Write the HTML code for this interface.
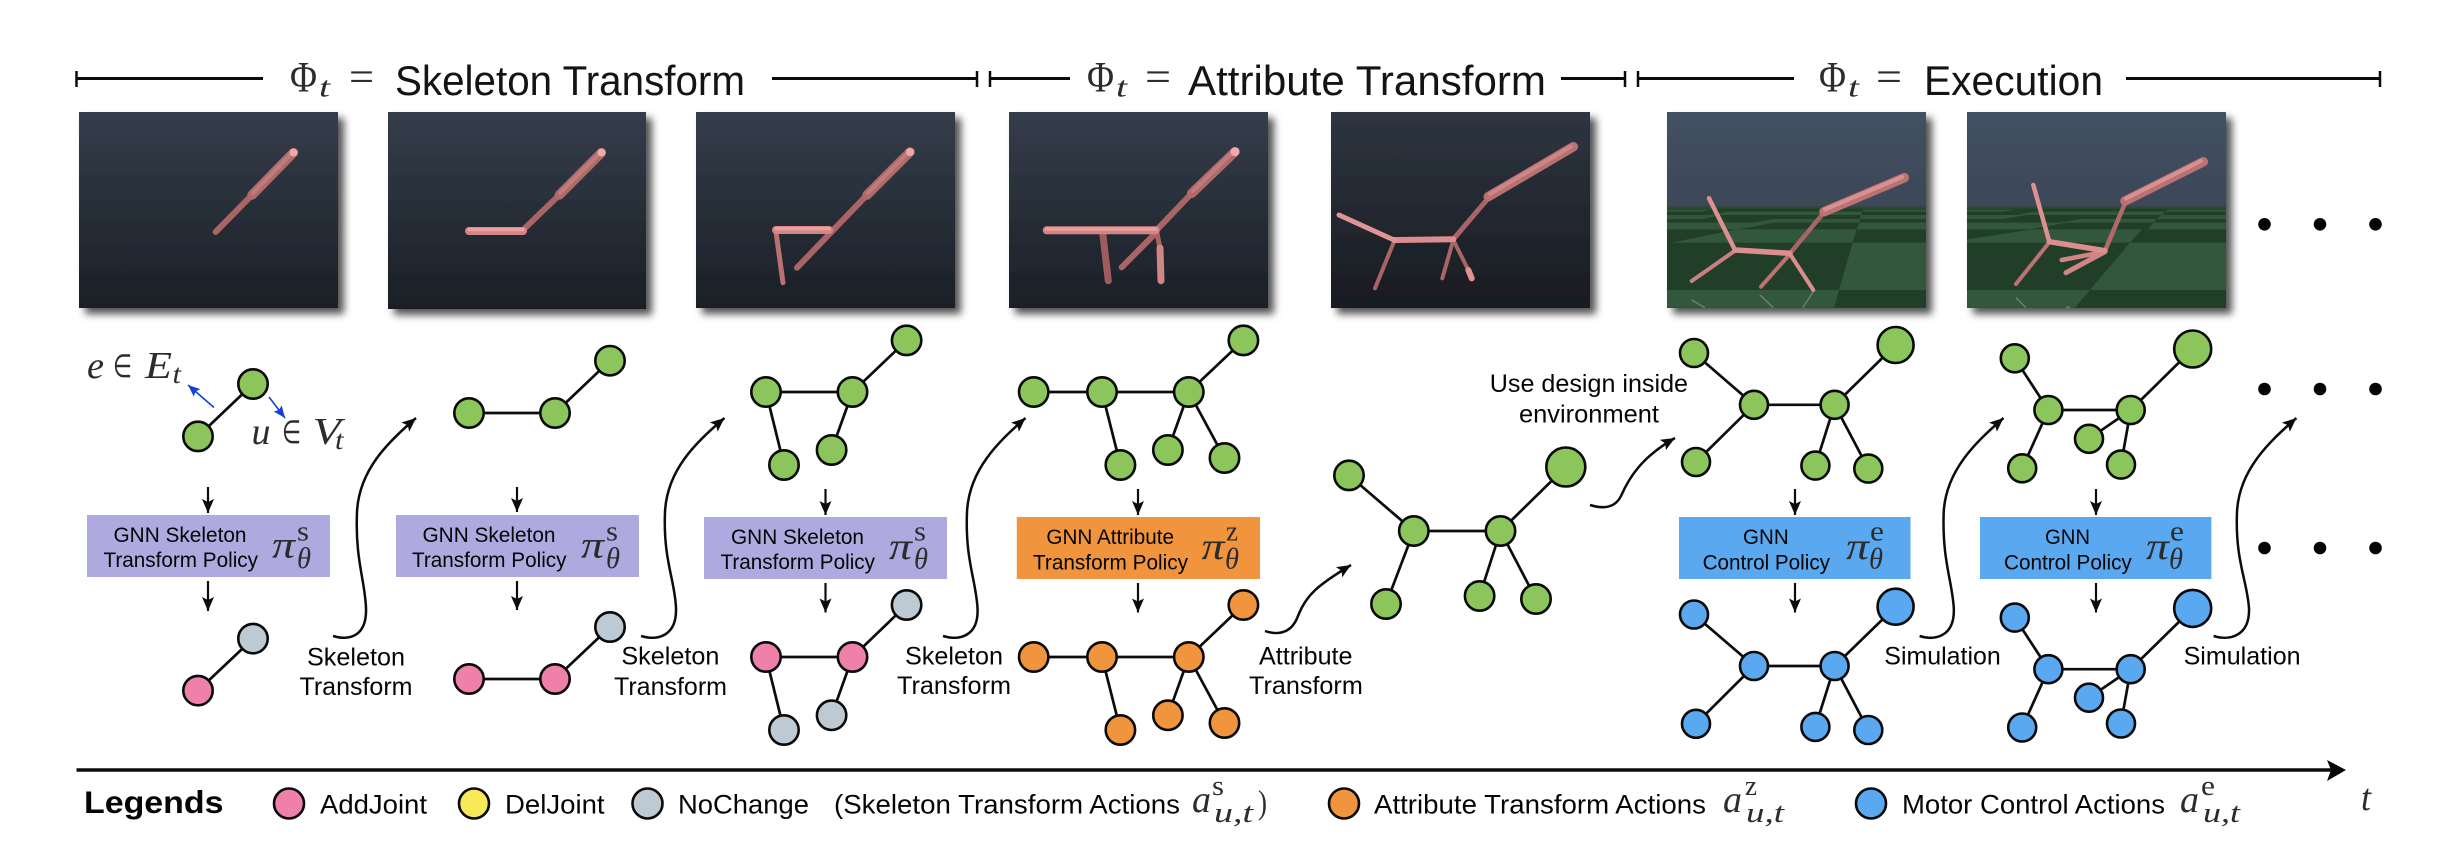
<!DOCTYPE html>
<html lang="en">
<head>
<meta charset="utf-8">
<title>Transform2Act overview diagram</title>
<style>
html,body{margin:0;padding:0;background:#fff;width:2438px;height:852px;overflow:hidden}
svg{display:block}
text{font-family:"Liberation Sans",sans-serif;fill:#050505}
.hd{font-size:41.5px;fill:#141414}
.lab{font-size:25px}
.box{font-size:21.5px}
.leg{font-size:26.5px}
.m{font-family:"Liberation Serif",serif;font-style:italic;fill:#2c2c2c}
.r{font-family:"Liberation Serif",serif;fill:#2c2c2c}
.e line{stroke:#0c0c0c;stroke-width:2.7}
.n circle{stroke:#0a0a0a;stroke-width:2.6}
.green circle{fill:#8cc55b}
.pink{fill:#ee80aa}
.gray{fill:#bdcad3}
.orange circle,.orangef{fill:#f0953e}
.blue circle,.bluef{fill:#5aa8ef}
.bracket line{stroke:#0a0a0a}
.dn{stroke:#0c0c0c;stroke-width:2.2;fill:none}
.cv{stroke:#0c0c0c;stroke-width:2.5;fill:none}
.lb{stroke-linecap:round;fill:none}
</style>
</head>
<body>
<svg xmlns="http://www.w3.org/2000/svg" width="2438" height="852" viewBox="0 0 2438 852">
<defs>
<linearGradient id="gDark" x1="0" y1="0" x2="0" y2="1"><stop offset="0" stop-color="#343d4a"/><stop offset="1" stop-color="#1b1f26"/></linearGradient>
<linearGradient id="gDark2" x1="0" y1="0" x2="0" y2="1"><stop offset="0" stop-color="#2e3541"/><stop offset="1" stop-color="#181b20"/></linearGradient>
<linearGradient id="gSky" x1="0" y1="0" x2="0" y2="1"><stop offset="0" stop-color="#435163"/><stop offset="1" stop-color="#343d4b"/></linearGradient>
<filter id="sh" x="-10%" y="-10%" width="125%" height="125%"><feDropShadow dx="6" dy="6" stdDeviation="4" flood-color="#000" flood-opacity=".68"/></filter>
<marker id="hd" markerUnits="userSpaceOnUse" markerWidth="16" markerHeight="14" refX="14" refY="6" orient="auto"><path d="M0 0L14 6L0 12L3 6Z" fill="#0c0c0c"/></marker>
<marker id="hb" markerUnits="userSpaceOnUse" markerWidth="14" markerHeight="12" refX="12" refY="5" orient="auto"><path d="M0 0L12 5L0 10L2 5Z" fill="#1440e0"/></marker>
</defs>

<!-- header brackets -->
<g class="bracket">
<line x1="76.5" y1="71" x2="76.5" y2="87" stroke-width="2.5"/><line x1="76" y1="78.5" x2="263" y2="78.5" stroke-width="3"/>
<line x1="772" y1="78.5" x2="977" y2="78.5" stroke-width="3"/><line x1="977" y1="71" x2="977" y2="87" stroke-width="2.5"/>
</g>
<g>
<text class="r" x="290" y="91.5" font-size="43" textLength="27" lengthAdjust="spacingAndGlyphs">Φ</text>
<text class="m" x="319" y="96.5" font-size="29" textLength="11" lengthAdjust="spacingAndGlyphs">t</text>
<text class="r" x="349" y="91" font-size="42" textLength="25" lengthAdjust="spacingAndGlyphs">=</text>
<text class="hd" x="395" y="95" textLength="350" lengthAdjust="spacingAndGlyphs">Skeleton Transform</text>
</g>
<g class="bracket">
<line x1="990" y1="71" x2="990" y2="87" stroke-width="2.5"/><line x1="990" y1="78.5" x2="1070" y2="78.5" stroke-width="3"/>
<line x1="1561" y1="78.5" x2="1625" y2="78.5" stroke-width="3"/><line x1="1625" y1="71" x2="1625" y2="87" stroke-width="2.5"/>
</g>
<g>
<text class="r" x="1087" y="91.5" font-size="43" textLength="27" lengthAdjust="spacingAndGlyphs">Φ</text>
<text class="m" x="1116" y="96.5" font-size="29" textLength="11" lengthAdjust="spacingAndGlyphs">t</text>
<text class="r" x="1145" y="91" font-size="42" textLength="26" lengthAdjust="spacingAndGlyphs">=</text>
<text class="hd" x="1188" y="95" textLength="358" lengthAdjust="spacingAndGlyphs">Attribute Transform</text>
</g>
<g class="bracket">
<line x1="1638" y1="71" x2="1638" y2="87" stroke-width="2.5"/><line x1="1638" y1="78.5" x2="1794" y2="78.5" stroke-width="3"/>
<line x1="2126" y1="78.5" x2="2380" y2="78.5" stroke-width="3"/><line x1="2380" y1="71" x2="2380" y2="87" stroke-width="2.5"/>
</g>
<g>
<text class="r" x="1819" y="91.5" font-size="43" textLength="27" lengthAdjust="spacingAndGlyphs">Φ</text>
<text class="m" x="1848" y="96.5" font-size="29" textLength="11" lengthAdjust="spacingAndGlyphs">t</text>
<text class="r" x="1876" y="91" font-size="42" textLength="26" lengthAdjust="spacingAndGlyphs">=</text>
<text class="hd" x="1924" y="95" textLength="179" lengthAdjust="spacingAndGlyphs">Execution</text>
</g>

<!-- render panels -->
<g>
<rect x="79" y="112" width="259" height="196" fill="url(#gDark)" filter="url(#sh)"/>
<g class="lb">
<line x1="252" y1="195" x2="215.6" y2="232" stroke="#a96565" stroke-width="6"/>
<line x1="293.4" y1="152.7" x2="252" y2="195" stroke="#b06a6a" stroke-width="9.5"/>
<line x1="292" y1="153" x2="253" y2="193" stroke="#c27b7b" stroke-width="4"/>
<circle cx="293.5" cy="152.5" r="4" fill="#efa9a9"/>
</g></g>
<g>
<rect x="388" y="112" width="258" height="197" fill="url(#gDark)" filter="url(#sh)"/>
<g class="lb">
<line x1="559.3" y1="195" x2="523" y2="230" stroke="#a96565" stroke-width="6"/>
<line x1="601.4" y1="152.7" x2="559.3" y2="195" stroke="#b06a6a" stroke-width="9.5"/>
<line x1="600" y1="153" x2="560" y2="193" stroke="#c27b7b" stroke-width="4"/>
<circle cx="601.5" cy="152.5" r="4" fill="#efa9a9"/>
<line x1="523" y1="231" x2="469" y2="231" stroke="#d28585" stroke-width="8"/>
<line x1="523" y1="229.5" x2="469" y2="229.5" stroke="#ec9f9f" stroke-width="3.5"/>
</g></g>
<g>
<rect x="696" y="112" width="259" height="196" fill="url(#gDark)" filter="url(#sh)"/>
<g class="lb">
<line x1="867" y1="195" x2="797" y2="267.7" stroke="#a96565" stroke-width="6"/>
<line x1="910" y1="152" x2="867" y2="195" stroke="#b06a6a" stroke-width="9.5"/>
<line x1="908.500" y1="152.500" x2="868" y2="193" stroke="#c27b7b" stroke-width="4"/>
<circle cx="910" cy="152" r="4" fill="#efa9a9"/>
<line x1="776" y1="232" x2="783" y2="282.7" stroke="#b87272" stroke-width="5"/>
<line x1="829" y1="230" x2="776" y2="230" stroke="#d28585" stroke-width="8"/>
<line x1="829" y1="228.500" x2="776" y2="228.500" stroke="#ec9f9f" stroke-width="3.5"/>
</g></g>
<g>
<rect x="1009" y="112" width="259" height="196" fill="url(#gDark)" filter="url(#sh)"/>
<g class="lb">
<line x1="1191.7" y1="193.3" x2="1155.7" y2="231" stroke="#a96565" stroke-width="6"/>
<line x1="1235" y1="151.7" x2="1191.7" y2="193.3" stroke="#b06a6a" stroke-width="9.5"/>
<line x1="1233" y1="152" x2="1193" y2="191" stroke="#c27b7b" stroke-width="4"/>
<circle cx="1235" cy="151.7" r="4.5" fill="#efa9a9"/>
<line x1="1155.7" y1="233" x2="1121.7" y2="267.3" stroke="#a96565" stroke-width="6"/>
<line x1="1102.7" y1="233" x2="1108.3" y2="280.7" stroke="#a05c5c" stroke-width="7"/>
<line x1="1156.7" y1="231.7" x2="1160" y2="248" stroke="#a96363" stroke-width="5"/>
<line x1="1160" y1="248" x2="1161" y2="280.7" stroke="#d28585" stroke-width="7"/>
<line x1="1155.7" y1="230.3" x2="1046.7" y2="230.3" stroke="#d28585" stroke-width="8"/>
<line x1="1155.7" y1="229" x2="1046.7" y2="229" stroke="#ec9f9f" stroke-width="3.5"/>
</g></g>
<g>
<rect x="1331" y="112" width="259" height="196" fill="url(#gDark2)" filter="url(#sh)"/>
<g class="lb">
<line x1="1486.7" y1="200" x2="1453.3" y2="239.3" stroke="#a96565" stroke-width="5"/>
<line x1="1573.3" y1="146.7" x2="1488.3" y2="196.7" stroke="#b87070" stroke-width="9.5"/>
<line x1="1571" y1="146.500" x2="1490" y2="194" stroke="#cd8585" stroke-width="4"/>
<line x1="1394" y1="241.7" x2="1375" y2="288.3" stroke="#a96565" stroke-width="4"/>
<line x1="1453.3" y1="240" x2="1442.3" y2="278.3" stroke="#a96565" stroke-width="4"/>
<line x1="1453.3" y1="240" x2="1468.3" y2="270" stroke="#a96565" stroke-width="4"/>
<line x1="1468.3" y1="270" x2="1471.7" y2="278.3" stroke="#e09292" stroke-width="6"/>
<line x1="1453.3" y1="239.3" x2="1394" y2="240" stroke="#dc8e8e" stroke-width="6"/>
<line x1="1394" y1="240" x2="1339" y2="215" stroke="#e09494" stroke-width="5"/>
</g></g>
<g>
<rect x="1667" y="112" width="259" height="196" fill="url(#gSky)" filter="url(#sh)"/>
<g transform="translate(1660,105) scale(.33333)">
<rect x="21" y="305" width="777" height="303" fill="#213f28"/>
<g fill="#33573c">
<polygon points="21,555 537,555 522,608 21,608"/>
<polygon points="578,413 798,413 798,555 537,555"/>
<polygon points="35,413 230,373 590,373 578,413"/>
<polygon points="21,353 345,353 235,373 21,373"/>
<polygon points="598,353 798,353 798,373 590,373"/>
<polygon points="340,342 600,342 598,353 280,353"/>
<polygon points="21,330 180,330 130,342 21,342"/>
<polygon points="602,330 798,330 798,342 600,342"/>
<polygon points="200,320 606,320 604,330 150,330"/>
<polygon points="21,314 160,314 120,320 21,320"/>
<polygon points="610,314 798,314 798,320 608,320"/>
<rect x="21" y="305" width="777" height="6" fill="#2a4a32"/>
</g>
<g stroke="#c9d3b8" stroke-opacity=".32" stroke-width="5" fill="none">
<line x1="95" y1="585" x2="135" y2="608"/><line x1="300" y1="570" x2="340" y2="608"/><line x1="460" y1="560" x2="428" y2="608"/>
</g></g>
<g class="lb">
<line x1="1823.3" y1="213.3" x2="1790" y2="253.3" stroke="#a96565" stroke-width="4.5"/>
<line x1="1904.3" y1="177.7" x2="1824" y2="211.7" stroke="#bb7272" stroke-width="9.5"/>
<line x1="1902" y1="177" x2="1825" y2="209.500" stroke="#d99090" stroke-width="4"/>
<line x1="1735" y1="250.7" x2="1691.7" y2="281" stroke="#c88080" stroke-width="4"/>
<line x1="1790" y1="254" x2="1761" y2="286.7" stroke="#ba7272" stroke-width="4"/>
<line x1="1790" y1="254" x2="1813.3" y2="290" stroke="#db8e8e" stroke-width="4"/>
<line x1="1735" y1="250" x2="1709" y2="198.3" stroke="#dd9090" stroke-width="4.5"/>
<line x1="1790" y1="253.3" x2="1735" y2="250" stroke="#dd8e8e" stroke-width="5.5"/>
</g></g>
<g>
<rect x="1967" y="112" width="259" height="196" fill="url(#gSky)" filter="url(#sh)"/>
<g transform="translate(1960,105) scale(.33333)">
<rect x="21" y="305" width="777" height="303" fill="#213f28"/>
<g fill="#33573c">
<polygon points="21,555 390,555 345,608 21,608"/>
<polygon points="510,413 798,413 798,555 390,555"/>
<polygon points="21,403 215,373 547,373 510,413 21,413"/>
<polygon points="21,353 320,353 210,373 21,373"/>
<polygon points="580,353 798,353 798,373 565,373"/>
<polygon points="360,342 590,342 578,353 300,353"/>
<polygon points="21,330 200,330 130,342 21,342"/>
<polygon points="605,330 798,330 798,342 590,342"/>
<polygon points="220,320 615,320 605,330 170,330"/>
<polygon points="21,314 170,314 130,320 21,320"/>
<polygon points="625,314 798,314 798,320 615,320"/>
<rect x="21" y="305" width="777" height="6" fill="#2a4a32"/>
</g>
<polygon points="21,403 215,373 21,373" fill="#213f28"/>
<g stroke="#c9d3b8" stroke-opacity=".32" stroke-width="5" fill="none">
<line x1="168" y1="578" x2="198" y2="608"/><line x1="318" y1="605" x2="330" y2="608"/>
</g></g>
<g class="lb">
<line x1="2125" y1="203.3" x2="2105" y2="250.7" stroke="#b06a6a" stroke-width="4.5"/>
<line x1="2203.3" y1="161.7" x2="2125" y2="201" stroke="#bb7272" stroke-width="9.500"/>
<line x1="2201" y1="161" x2="2126" y2="198.500" stroke="#d99090" stroke-width="4"/>
<line x1="2049.3" y1="242.3" x2="2016" y2="284" stroke="#ba7272" stroke-width="4"/>
<line x1="2105" y1="251.7" x2="2061.7" y2="260" stroke="#d28585" stroke-width="4.5"/>
<line x1="2105" y1="251.7" x2="2066" y2="272.7" stroke="#d28585" stroke-width="5"/>
<line x1="2049.3" y1="241.7" x2="2033.3" y2="185" stroke="#dd9090" stroke-width="4.5"/>
<line x1="2105" y1="250.7" x2="2049.3" y2="241.7" stroke="#dd8e8e" stroke-width="5.5"/>
</g></g>

<g fill="#050505">
<circle cx="2264.5" cy="224.3" r="6.3"/><circle cx="2320" cy="224.3" r="6.3"/><circle cx="2375.5" cy="224.3" r="6.3"/>
</g>
<g fill="#050505">
<circle cx="2264.5" cy="389" r="6.3"/><circle cx="2320" cy="389" r="6.3"/><circle cx="2375.5" cy="389" r="6.3"/>
</g>
<g fill="#050505">
<circle cx="2264.5" cy="548" r="6.3"/><circle cx="2320" cy="548" r="6.3"/><circle cx="2375.5" cy="548" r="6.3"/>
</g>

<!-- annotation e, u -->
<g>
<text class="m" x="87" y="378" font-size="38" textLength="17" lengthAdjust="spacingAndGlyphs">e</text>
<text class="r" x="113" y="377" font-size="32" textLength="19" lengthAdjust="spacingAndGlyphs">∈</text>
<text class="m" x="145" y="378" font-size="38" textLength="27" lengthAdjust="spacingAndGlyphs">E</text>
<text class="m" x="172.5" y="383" font-size="27" textLength="8.5" lengthAdjust="spacingAndGlyphs">t</text>
</g>
<g>
<text class="m" x="251.5" y="444" font-size="38" textLength="19" lengthAdjust="spacingAndGlyphs">u</text>
<text class="r" x="282" y="443" font-size="32" textLength="19" lengthAdjust="spacingAndGlyphs">∈</text>
<text class="m" x="312.8" y="444" font-size="38" textLength="28" lengthAdjust="spacingAndGlyphs">V</text>
<text class="m" x="335" y="449" font-size="27" textLength="8.5" lengthAdjust="spacingAndGlyphs">t</text>
</g>
<line x1="214" y1="407.5" x2="188" y2="385" stroke="#1440e0" stroke-width="1.6" marker-end="url(#hb)"/>
<line x1="269" y1="397" x2="285" y2="418" stroke="#1440e0" stroke-width="1.6" marker-end="url(#hb)"/>

<!-- Graph 1 -->
<g>
<g class="e"><line x1="198" y1="436.4" x2="253" y2="384"/></g>
<g class="n green"><circle cx="198" cy="436.4" r="14.7"/><circle cx="253" cy="384" r="14.7"/></g>
</g>
<g>
<g class="e"><line x1="198" y1="690.6" x2="253" y2="638.6"/></g>
<g class="n"><circle class="pink" cx="198" cy="690.6" r="14.7"/><circle class="gray" cx="253" cy="638.6" r="14.7"/></g>
</g>
<!-- Graph 2 -->
<g>
<g class="e"><line x1="469" y1="413" x2="555" y2="413"/><line x1="555" y1="413" x2="610" y2="360.7"/></g>
<g class="n green"><circle cx="469" cy="413" r="14.7"/><circle cx="555" cy="413" r="14.7"/><circle cx="610" cy="360.7" r="14.7"/></g>
</g>
<g>
<g class="e"><line x1="469" y1="679" x2="555" y2="679"/><line x1="555" y1="679" x2="610" y2="627"/></g>
<g class="n"><circle class="pink" cx="469" cy="679" r="14.7"/><circle class="pink" cx="555" cy="679" r="14.7"/><circle class="gray" cx="610" cy="627" r="14.7"/></g>
</g>
<!-- Graph 3 -->
<g>
<g class="e"><line x1="766" y1="392" x2="852.5" y2="392"/><line x1="852.5" y1="392" x2="906.6" y2="340.4"/><line x1="852.5" y1="392" x2="831.6" y2="450"/><line x1="766" y1="392" x2="784" y2="465"/></g>
<g class="n green"><circle cx="766" cy="392" r="14.7"/><circle cx="852.5" cy="392" r="14.7"/><circle cx="906.6" cy="340.4" r="14.7"/><circle cx="831.6" cy="450" r="14.7"/><circle cx="784" cy="465" r="14.7"/></g>
</g>
<g>
<g class="e"><line x1="766" y1="657" x2="852.5" y2="657"/><line x1="852.5" y1="657" x2="906.6" y2="605"/><line x1="852.5" y1="657" x2="831.6" y2="715.3"/><line x1="766" y1="657" x2="784" y2="730"/></g>
<g class="n"><circle class="pink" cx="766" cy="657" r="14.7"/><circle class="pink" cx="852.5" cy="657" r="14.7"/><circle class="gray" cx="906.6" cy="605" r="14.7"/><circle class="gray" cx="831.6" cy="715.3" r="14.7"/><circle class="gray" cx="784" cy="730" r="14.7"/></g>
</g>
<!-- Graph 4 -->
<g>
<g class="e"><line x1="1033.7" y1="392" x2="1188.8" y2="392"/><line x1="1188.8" y1="392" x2="1243.4" y2="340.4"/><line x1="1102" y1="392" x2="1120.4" y2="465"/><line x1="1188.8" y1="392" x2="1167.9" y2="450"/><line x1="1188.8" y1="392" x2="1224.5" y2="458"/></g>
<g class="n green"><circle cx="1033.7" cy="392" r="14.7"/><circle cx="1102" cy="392" r="14.7"/><circle cx="1188.8" cy="392" r="14.7"/><circle cx="1243.4" cy="340.4" r="14.7"/><circle cx="1120.4" cy="465" r="14.7"/><circle cx="1167.9" cy="450" r="14.7"/><circle cx="1224.5" cy="458" r="14.7"/></g>
</g>
<g>
<g class="e"><line x1="1033.7" y1="657" x2="1188.8" y2="657"/><line x1="1188.8" y1="657" x2="1243.4" y2="605"/><line x1="1102" y1="657" x2="1120.4" y2="730"/><line x1="1188.8" y1="657" x2="1167.9" y2="715.3"/><line x1="1188.8" y1="657" x2="1224.5" y2="723"/></g>
<g class="n orange"><circle cx="1033.7" cy="657" r="14.7"/><circle cx="1102" cy="657" r="14.7"/><circle cx="1188.8" cy="657" r="14.7"/><circle cx="1243.4" cy="605" r="14.7"/><circle cx="1120.4" cy="730" r="14.7"/><circle cx="1167.9" cy="715.3" r="14.7"/><circle cx="1224.5" cy="723" r="14.7"/></g>
</g>
<!-- Graph 5 -->
<g>
<g class="e"><line x1="1349" y1="475.4" x2="1413.8" y2="531"/><line x1="1413.8" y1="531" x2="1500.5" y2="531"/><line x1="1500.5" y1="531" x2="1565.8" y2="467"/><line x1="1413.8" y1="531" x2="1386" y2="604"/><line x1="1500.5" y1="531" x2="1479.6" y2="596"/><line x1="1500.5" y1="531" x2="1536" y2="599"/></g>
<g class="n green"><circle cx="1349" cy="475.4" r="14.7"/><circle cx="1565.8" cy="467" r="19.5"/><circle cx="1413.8" cy="531" r="14.7"/><circle cx="1500.5" cy="531" r="14.7"/><circle cx="1386" cy="604" r="14.7"/><circle cx="1479.6" cy="596" r="14.7"/><circle cx="1536" cy="599" r="14.7"/></g>
</g>
<!-- Graph 6 -->
<g>
<g class="e"><line x1="1694" y1="353" x2="1754" y2="404.8"/><line x1="1754" y1="404.8" x2="1834.6" y2="404.8"/><line x1="1834.6" y1="404.8" x2="1895.6" y2="345"/><line x1="1754" y1="404.8" x2="1696" y2="462"/><line x1="1834.6" y1="404.8" x2="1815.4" y2="465.6"/><line x1="1834.6" y1="404.8" x2="1868.3" y2="468.6"/></g>
<g class="n green"><circle cx="1694" cy="353" r="14"/><circle cx="1895.6" cy="345" r="18"/><circle cx="1754" cy="404.8" r="14"/><circle cx="1834.6" cy="404.8" r="14"/><circle cx="1696" cy="462" r="14"/><circle cx="1815.4" cy="465.6" r="14"/><circle cx="1868.3" cy="468.6" r="14"/></g>
</g>
<g>
<g class="e"><line x1="1694" y1="614.5" x2="1754" y2="666"/><line x1="1754" y1="666" x2="1834.6" y2="666"/><line x1="1834.6" y1="666" x2="1895.6" y2="606.7"/><line x1="1754" y1="666" x2="1696" y2="723.8"/><line x1="1834.6" y1="666" x2="1815.4" y2="726.9"/><line x1="1834.6" y1="666" x2="1868.3" y2="730"/></g>
<g class="n blue"><circle cx="1694" cy="614.5" r="14"/><circle cx="1895.6" cy="606.7" r="18"/><circle cx="1754" cy="666" r="14"/><circle cx="1834.6" cy="666" r="14"/><circle cx="1696" cy="723.8" r="14"/><circle cx="1815.4" cy="726.9" r="14"/><circle cx="1868.3" cy="730" r="14"/></g>
</g>
<!-- Graph 7 -->
<g>
<g class="e"><line x1="2014.8" y1="358.3" x2="2048.4" y2="410"/><line x1="2048.4" y1="410" x2="2130.7" y2="410"/><line x1="2130.7" y1="410" x2="2192.7" y2="349"/><line x1="2048.4" y1="410" x2="2022.2" y2="468.3"/><line x1="2130.7" y1="410" x2="2089" y2="438.8"/><line x1="2130.7" y1="410" x2="2121" y2="464.6"/></g>
<g class="n green"><circle cx="2014.8" cy="358.3" r="14"/><circle cx="2192.7" cy="349" r="18.5"/><circle cx="2048.4" cy="410" r="14"/><circle cx="2130.7" cy="410" r="14"/><circle cx="2022.2" cy="468.3" r="14"/><circle cx="2089" cy="438.8" r="14"/><circle cx="2121" cy="464.6" r="14"/></g>
</g>
<g>
<g class="e"><line x1="2014.8" y1="617.6" x2="2048.4" y2="669.2"/><line x1="2048.4" y1="669.2" x2="2130.7" y2="669.2"/><line x1="2130.7" y1="669.2" x2="2192.7" y2="608.4"/><line x1="2048.4" y1="669.2" x2="2022.2" y2="727.5"/><line x1="2130.7" y1="669.2" x2="2089" y2="697.7"/><line x1="2130.7" y1="669.2" x2="2121" y2="723.5"/></g>
<g class="n blue"><circle cx="2014.8" cy="617.6" r="14"/><circle cx="2192.7" cy="608.4" r="18.5"/><circle cx="2048.4" cy="669.2" r="14"/><circle cx="2130.7" cy="669.2" r="14"/><circle cx="2022.2" cy="727.5" r="14"/><circle cx="2089" cy="697.7" r="14"/><circle cx="2121" cy="723.5" r="14"/></g>
</g>

<!-- down arrows -->
<g>
<line class="dn" x1="208" y1="487" x2="208" y2="513" marker-end="url(#hd)"/><line class="dn" x1="208" y1="581" x2="208" y2="611" marker-end="url(#hd)"/>
<line class="dn" x1="517" y1="487" x2="517" y2="512" marker-end="url(#hd)"/><line class="dn" x1="517" y1="581" x2="517" y2="610" marker-end="url(#hd)"/>
<line class="dn" x1="825.5" y1="489" x2="825.5" y2="515" marker-end="url(#hd)"/><line class="dn" x1="825.5" y1="583" x2="825.5" y2="612.5" marker-end="url(#hd)"/>
<line class="dn" x1="1138" y1="489" x2="1138" y2="515" marker-end="url(#hd)"/><line class="dn" x1="1138" y1="583" x2="1138" y2="612.5" marker-end="url(#hd)"/>
<line class="dn" x1="1795" y1="489" x2="1795" y2="515" marker-end="url(#hd)"/><line class="dn" x1="1795" y1="583" x2="1795" y2="612.5" marker-end="url(#hd)"/>
<line class="dn" x1="2096" y1="489" x2="2096" y2="515" marker-end="url(#hd)"/><line class="dn" x1="2096" y1="583" x2="2096" y2="612.5" marker-end="url(#hd)"/>
</g>

<!-- policy boxes -->
<g>
<rect x="87" y="515" width="243" height="62" fill="#aeaae0"/>
<text class="box" x="113.500" y="542" textLength="133" lengthAdjust="spacingAndGlyphs">GNN Skeleton</text>
<text class="box" x="103.5" y="567" textLength="154.500" lengthAdjust="spacingAndGlyphs">Transform Policy</text>
<text class="m" x="272" y="557.5" font-size="38" textLength="23" lengthAdjust="spacingAndGlyphs">π</text>
<text class="r" x="297" y="540.6" font-size="28" textLength="12" lengthAdjust="spacingAndGlyphs">s</text>
<text class="m" x="297" y="568" font-size="30" textLength="14" lengthAdjust="spacingAndGlyphs">θ</text>
</g>
<g>
<rect x="396" y="515" width="243" height="62" fill="#aeaae0"/>
<text class="box" x="422.500" y="542" textLength="133" lengthAdjust="spacingAndGlyphs">GNN Skeleton</text>
<text class="box" x="412" y="567" textLength="154.500" lengthAdjust="spacingAndGlyphs">Transform Policy</text>
<text class="m" x="581" y="557.5" font-size="38" textLength="23" lengthAdjust="spacingAndGlyphs">π</text>
<text class="r" x="606" y="540.6" font-size="28" textLength="12" lengthAdjust="spacingAndGlyphs">s</text>
<text class="m" x="606" y="568" font-size="30" textLength="14" lengthAdjust="spacingAndGlyphs">θ</text>
</g>
<g>
<rect x="704" y="517" width="243" height="62" fill="#aeaae0"/>
<text class="box" x="731" y="544" textLength="133" lengthAdjust="spacingAndGlyphs">GNN Skeleton</text>
<text class="box" x="720.500" y="569" textLength="154.500" lengthAdjust="spacingAndGlyphs">Transform Policy</text>
<text class="m" x="889" y="559" font-size="38" textLength="23" lengthAdjust="spacingAndGlyphs">π</text>
<text class="r" x="914" y="540.6" font-size="28" textLength="12" lengthAdjust="spacingAndGlyphs">s</text>
<text class="m" x="914" y="568.500" font-size="30" textLength="14" lengthAdjust="spacingAndGlyphs">θ</text>
</g>
<g>
<rect x="1016.8" y="517" width="243.200" height="62" fill="#f0953e"/>
<text class="box" x="1046.4" y="544" textLength="127.600" lengthAdjust="spacingAndGlyphs">GNN Attribute</text>
<text class="box" x="1033" y="569.4" textLength="155" lengthAdjust="spacingAndGlyphs">Transform Policy</text>
<text class="m" x="1201.5" y="559" font-size="38" textLength="23" lengthAdjust="spacingAndGlyphs">π</text>
<text class="r" x="1226" y="540.6" font-size="28" textLength="12" lengthAdjust="spacingAndGlyphs">z</text>
<text class="m" x="1225" y="568.500" font-size="30" textLength="14" lengthAdjust="spacingAndGlyphs">θ</text>
</g>
<g>
<rect x="1679" y="517" width="231.500" height="62" fill="#5aa8ef"/>
<text class="box" x="1743" y="544" textLength="45.700" lengthAdjust="spacingAndGlyphs">GNN</text>
<text class="box" x="1702.6" y="569.4" textLength="127.400" lengthAdjust="spacingAndGlyphs">Control Policy</text>
<text class="m" x="1846" y="559" font-size="38" textLength="23" lengthAdjust="spacingAndGlyphs">π</text>
<text class="r" x="1870" y="540.6" font-size="28" textLength="14" lengthAdjust="spacingAndGlyphs">e</text>
<text class="m" x="1869" y="568.4" font-size="30" textLength="14" lengthAdjust="spacingAndGlyphs">θ</text>
</g>
<g>
<rect x="1980" y="517" width="231.400" height="62" fill="#5aa8ef"/>
<text class="box" x="2045" y="544" textLength="45" lengthAdjust="spacingAndGlyphs">GNN</text>
<text class="box" x="2004" y="569.4" textLength="127.800" lengthAdjust="spacingAndGlyphs">Control Policy</text>
<text class="m" x="2146" y="559" font-size="38" textLength="23" lengthAdjust="spacingAndGlyphs">π</text>
<text class="r" x="2170" y="540.6" font-size="28" textLength="14" lengthAdjust="spacingAndGlyphs">e</text>
<text class="m" x="2169" y="568.4" font-size="30" textLength="14" lengthAdjust="spacingAndGlyphs">θ</text>
</g>

<!-- curved arrows -->
<g>
<path class="cv" d="M333 636C350 641 367 636 366 608C365 580 355 560 357 512C359 470 388 442 416 418" marker-end="url(#hd)"/>
<path class="cv" d="M641 636C658 641 677 636 676 608C675 580 663 560 665 512C667 470 696 442 724.500 418" marker-end="url(#hd)"/>
<path class="cv" d="M943 636C960 641 979 636 977.500 608C976 580 965 560 967 512C969 470 998 442 1025.500 418" marker-end="url(#hd)"/>
<path class="cv" d="M1265 631C1280 636 1292 632 1298 616C1306 595 1318 585 1351 565" marker-end="url(#hd)"/>
<path class="cv" d="M1590 505C1606 510 1616 506 1621 496C1628 480 1640 458 1675 438" marker-end="url(#hd)"/>
<path class="cv" d="M1919.600 636C1936 641 1955 636 1953.800 608C1952 580 1942 560 1943.700 512C1946 470 1976 442 2003.500 418" marker-end="url(#hd)"/>
<path class="cv" d="M2213.600 636C2230 641 2250 636 2249 608C2247 580 2235 560 2237 512C2239 470 2269 442 2296.400 418" marker-end="url(#hd)"/>
</g>

<!-- transition labels -->
<g class="lab">
<g>
<text class="lab" x="307" y="665.4" textLength="98" lengthAdjust="spacingAndGlyphs">Skeleton</text>
<text class="lab" x="299.5" y="695" textLength="113" lengthAdjust="spacingAndGlyphs">Transform</text>
</g>
<g>
<text class="lab" x="621.4" y="664.4" textLength="98" lengthAdjust="spacingAndGlyphs">Skeleton</text>
<text class="lab" x="614" y="695" textLength="113" lengthAdjust="spacingAndGlyphs">Transform</text>
</g>
<g>
<text class="lab" x="905" y="664.4" textLength="98" lengthAdjust="spacingAndGlyphs">Skeleton</text>
<text class="lab" x="897" y="694" textLength="114" lengthAdjust="spacingAndGlyphs">Transform</text>
</g>
<g>
<text class="lab" x="1259" y="664.4" textLength="93.500" lengthAdjust="spacingAndGlyphs">Attribute</text>
<text class="lab" x="1249" y="694" textLength="113.800" lengthAdjust="spacingAndGlyphs">Transform</text>
</g>
<g>
<text class="lab" x="1489.8" y="392" textLength="198.200" lengthAdjust="spacingAndGlyphs">Use design inside</text>
<text class="lab" x="1519" y="422.5" textLength="140" lengthAdjust="spacingAndGlyphs">environment</text>
</g>
<text class="lab" x="1884.3" y="664.4" textLength="116.500" lengthAdjust="spacingAndGlyphs">Simulation</text>
<text class="lab" x="2183.6" y="664.4" textLength="117" lengthAdjust="spacingAndGlyphs">Simulation</text>
</g>

<!-- time axis -->
<g>
<line x1="76.5" y1="770" x2="2335" y2="770" stroke="#0c0c0c" stroke-width="3.5"/>
<polygon points="2327,760 2346,770 2327,781 2331,770" fill="#050505"/>
<text class="m" x="2361" y="810" font-size="38" textLength="10" lengthAdjust="spacingAndGlyphs">t</text>
</g>

<!-- legend -->
<g>
<text x="84" y="813" font-size="31.5" font-weight="bold" textLength="139.500" lengthAdjust="spacingAndGlyphs">Legends</text>
<g>
<circle cx="289" cy="803.5" r="15" fill="#ee80aa" stroke="#0a0a0a" stroke-width="2.6"/>
<text class="leg" x="320" y="813.7" textLength="107" lengthAdjust="spacingAndGlyphs">AddJoint</text>
</g>
<g>
<circle cx="474" cy="803.5" r="15" fill="#f8e958" stroke="#0a0a0a" stroke-width="2.6"/>
<text class="leg" x="505" y="813.7" textLength="99.600" lengthAdjust="spacingAndGlyphs">DelJoint</text>
</g>
<g>
<circle cx="647.5" cy="803.5" r="15" fill="#bdcad3" stroke="#0a0a0a" stroke-width="2.6"/>
<text class="leg" x="678" y="813.7" textLength="131" lengthAdjust="spacingAndGlyphs">NoChange</text>
</g>
<g>
<text class="leg" x="834" y="813.7" textLength="346" lengthAdjust="spacingAndGlyphs">(Skeleton Transform Actions</text>
<text class="m" x="1192" y="812" font-size="38" textLength="19" lengthAdjust="spacingAndGlyphs">a</text>
<text class="r" x="1212" y="795" font-size="28" textLength="12" lengthAdjust="spacingAndGlyphs">s</text>
<text class="m" x="1214" y="822" font-size="28" textLength="39" lengthAdjust="spacingAndGlyphs">u,t</text>
<text class="r" x="1258" y="813.7" font-size="34" textLength="9" lengthAdjust="spacingAndGlyphs">)</text>
</g>
<g>
<circle cx="1344" cy="803.5" r="15" fill="#f0953e" stroke="#0a0a0a" stroke-width="2.6"/>
<text class="leg" x="1374" y="813.7" textLength="332" lengthAdjust="spacingAndGlyphs">Attribute Transform Actions</text>
<text class="m" x="1723" y="812" font-size="38" textLength="19" lengthAdjust="spacingAndGlyphs">a</text>
<text class="r" x="1745" y="795" font-size="28" textLength="12" lengthAdjust="spacingAndGlyphs">z</text>
<text class="m" x="1746" y="822" font-size="28" textLength="38" lengthAdjust="spacingAndGlyphs">u,t</text>
</g>
<g>
<circle cx="1871" cy="803.5" r="15" fill="#5aa8ef" stroke="#0a0a0a" stroke-width="2.6"/>
<text class="leg" x="1902" y="813.7" textLength="263" lengthAdjust="spacingAndGlyphs">Motor Control Actions</text>
<text class="m" x="2180" y="812" font-size="38" textLength="19" lengthAdjust="spacingAndGlyphs">a</text>
<text class="r" x="2201" y="795" font-size="28" textLength="14" lengthAdjust="spacingAndGlyphs">e</text>
<text class="m" x="2203" y="822" font-size="28" textLength="37" lengthAdjust="spacingAndGlyphs">u,t</text>
</g>
</g>
</svg>
</body>
</html>
